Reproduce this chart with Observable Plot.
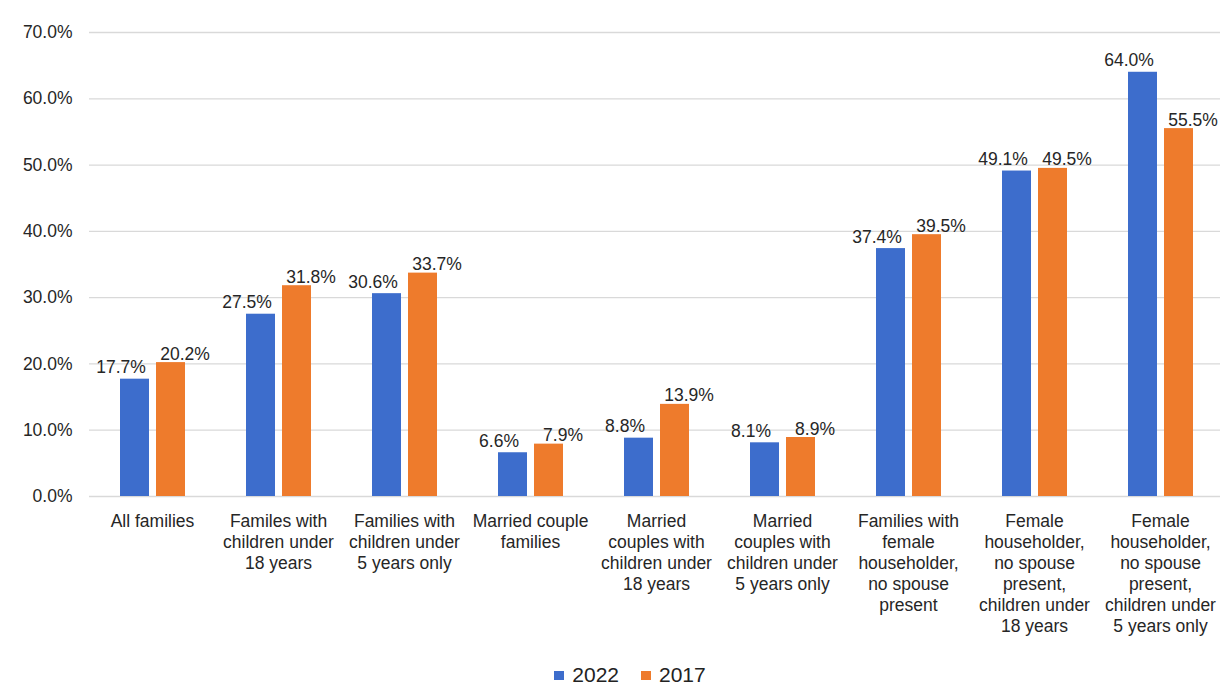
<!DOCTYPE html>
<html>
<head>
<meta charset="utf-8">
<script src="https://cdn.jsdelivr.net/npm/d3@7"></script>
<script src="https://cdn.jsdelivr.net/npm/@observablehq/plot@0.6"></script>
<style>
  html, body { margin: 0; padding: 0; background: #fff; }
  body { width: 1220px; height: 692px; overflow: hidden; font-family: "Liberation Sans", Arial, sans-serif; }
  #legend { display: flex; justify-content: center; align-items: center; padding-left: 40px; padding-top: 8px; height: 30px; font-size: 21px; color: #222; }
  .sw { display: inline-block; width: 10px; height: 9px; margin-right: 8px; }
  .item { display: flex; align-items: center; margin: 0 11px; }
</style>
</head>
<body>
<div id="chart"></div>
<div id="legend"></div>
<script>
const categories = [
  "All families",
  "Familes with\nchildren under\n18 years",
  "Families with\nchildren under\n5 years only",
  "Married couple\nfamilies",
  "Married\ncouples with\nchildren under\n18 years",
  "Married\ncouples with\nchildren under\n5 years only",
  "Families with\nfemale\nhouseholder,\nno spouse\npresent",
  "Female\nhouseholder,\nno spouse\npresent,\nchildren under\n18 years",
  "Female\nhouseholder,\nno spouse\npresent,\nchildren under\n5 years only"
];
const years = ["2022", "2017"];
const values2022 = [17.7, 27.5, 30.6, 6.6, 8.8, 8.1, 37.4, 49.1, 64.0];
const values2017 = [20.2, 31.8, 33.7, 7.9, 13.9, 8.9, 39.5, 49.5, 55.5];
const yTicks = [0, 10, 20, 30, 40, 50, 60, 70];
const colors = ["#3D6DCC", "#EE7B2C"];

const data = categories.flatMap((c, i) => [
  {category: c, year: "2022", value: values2022[i]},
  {category: c, year: "2017", value: values2017[i]}
]);
const fmt = d => d.toFixed(1) + "%";

const chart = Plot.plot({
  width: 1220,
  height: 652,
  marginTop: 32,
  marginBottom: 156,
  marginLeft: 89,
  marginRight: -3,
  style: {fontFamily: "'Liberation Sans', Arial, sans-serif", fontSize: "17.5px", color: "#262626", background: "#fff"},
  fx: {domain: categories, padding: 0, label: null},
  x: {domain: years, paddingInner: 0.2, paddingOuter: 0.85, axis: null},
  y: {domain: [0, 70], label: null},
  color: {domain: years, range: colors},
  marks: [
    Plot.gridY(yTicks, {stroke: "#d9d9d9", strokeOpacity: 1, strokeWidth: 1.3}),
    Plot.axisY(yTicks, {tickSize: 0, tickPadding: 17, tickFormat: fmt, label: null}),
    Plot.axisFx({anchor: "bottom", tickSize: 0, tickPadding: 15, lineHeight: 1.21, label: null}),
    Plot.barY(data, {fx: "category", x: "year", y: "value", fill: "year"}),
    Plot.text(data.filter(d => d.year === "2022"), {fx: "category", x: "year", y: "value", text: d => fmt(d.value), lineAnchor: "bottom", dy: -6, dx: -14, fill: "#262626"}),
    Plot.text(data.filter(d => d.year === "2017"), {fx: "category", x: "year", y: "value", text: d => fmt(d.value), lineAnchor: "bottom", dy: -3, dx: 14, fill: "#262626"})
  ]
});
document.getElementById("chart").appendChild(chart);

const legend = document.getElementById("legend");
years.forEach((y, i) => {
  const item = document.createElement("span");
  item.className = "item";
  const sw = document.createElement("span");
  sw.className = "sw";
  sw.style.background = colors[i];
  item.appendChild(sw);
  item.appendChild(document.createTextNode(y));
  legend.appendChild(item);
});
</script>
</body>
</html>
